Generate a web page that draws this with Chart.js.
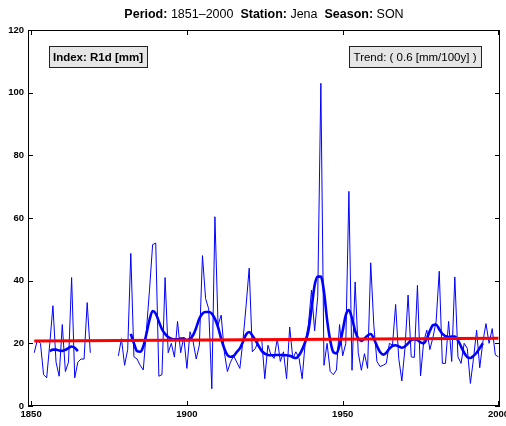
<!DOCTYPE html>
<html>
<head>
<meta charset="utf-8">
<script src="https://cdn.jsdelivr.net/npm/chart.js@4"></script>
<style>
  html, body { margin: 0; padding: 0; background: #fff; }
  #wrap { width: 506px; height: 426px; }
</style>
</head>
<body>
<div id="wrap"><canvas id="rainChart" width="506" height="426"></canvas></div>
<script>
// annual values, first year 1851 (null = missing)
const firstYear = 1851;
const annualValues = [
  17, 21, 20, 10, 9, 20, 32, 14, 9.5,                 // 1851-1859
  26, 11, 14, 41, 9, 14, 15, 15, 33, 17,              // 1860-1869
  null, null, null, null, null, null, null, null, 16, 21.5, // 1870-1879
  13, 18, 48.7, 15.7, 15, 13, 11.5, 24, 37, 51.5,     // 1880-1889
  52, 9.5, 10, 41, 17, 20, 15.6, 27, 17, 22,          // 1890-1899
  12, 23.7, 20.5, 15, 19.4, 48, 34.3, 31, 5.5, 60.4,  // 1900-1909
  25.8, 29, 17.3, 11, 14, 16, 14, 12, 21, 32,         // 1910-1919
  44, 17.3, 18.4, 21, 21.5, 8.7, 19.4, 16.3, 15.2, 21.5, // 1920-1929
  14.2, 17.3, 8.7, 25.2, 15.2, 17.3, 15.2, 8.7, 20.5, 26, // 1930-1939
  37, 24, 35, 103, 13, 20, 11, 10, 11.5, 26,          // 1940-1949
  16, 20, 68.5, 11.4, 39.6, 17, 11.4, 16.7, 12, 45.7, // 1950-1959
  25.8, 14.2, 12.6, 13, 13.6, 20, 19.4, 32.4, 15.2, 8, // 1960-1969
  18.4, 35.4, 15.7, 15.5, 38.5, 9.6, 20.5, 24.2, 18, 22, // 1970-1979
  27, 43, 13.6, 13.6, 27, 14.2, 41.2, 15.7, 13.6, 20, // 1980-1989
  18.4, 7.2, 15.2, 24.2, 12.2, 20.5, 26.3, 20, 24.7, 16.3, // 1990-1999
  15.7                                                // 2000
];

// smoothed curve, two pieces
const smoothEarlyStart = 1856;
const smoothEarly = [17.5, 18, 18, 17.7, 17.6, 17.9, 18.5, 19, 18.6, 17.5];
const smoothLateStart = 1882;
const smoothLate = [
  23, 20, 17.5, 17.3, 19, 23, 27.5, 30.3,             // 1882-1889
  29.5, 27, 24.5, 23, 22, 21.5, 21.3, 21.3, 21.5, 21.5,
  21, 21.5, 22.6, 25, 27.9, 29.5, 30, 30, 29.5, 27.8,
  25.2, 21.5, 18.4, 16.3, 15.7, 16, 17.2, 18.4, 20.5, 22.8,
  23.6, 22.5, 21, 19.2, 17.6, 16.7, 16.3, 16.2, 16.2, 16.3,
  16.3, 16.2, 16.2, 16, 15.6, 15.3, 16.2, 18, 20.5, 24,
  31, 38.5, 41.3, 41.3, 36.5, 27.5, 21, 17.2, 16.8, 19.5,
  24, 29, 30.6, 28, 24, 21.5, 20.8, 21.5, 22.5, 23,
  21.5, 19.2, 17.2, 16.4, 17, 18.3, 19.2, 19.4, 19, 18.6,
  19, 20, 21, 21.3, 21, 20.3, 20, 21.5, 24, 25.8,
  26, 24.5, 23, 22.3, 22, 22.2, 22.2, 21, 19, 17,
  15.6, 15.3, 16, 17, 18.5, 20                        // 1990-1995
];

// linear trend end points
const trendYears = [1851, 2000];
const trendValues = [20.75, 21.65];

const xTicks = [1850, 1900, 1950, 2000];
const yTicks = [0, 20, 40, 60, 80, 100, 120];

const titleParts = [
  ['Period: ', true], ['1851\u20132000  ', false],
  ['Station: ', true], ['Jena  ', false],
  ['Season: ', true], ['SON', false]
];
const indexLabel = 'Index: R1d [mm]';
const trendLabel = 'Trend: ( 0.6 [mm/100y] )';

const FONT = '"Liberation Sans", Arial, Helvetica, sans-serif';

const toPoints = (start, arr) => arr.map((v, i) => ({ x: start + i, y: v }));
const smoothPoints = toPoints(smoothEarlyStart, smoothEarly)
  .concat([{ x: smoothEarlyStart + smoothEarly.length, y: null }])
  .concat(toPoints(smoothLateStart, smoothLate));

// title, boxes, frame with inward ticks
const decorPlugin = {
  id: 'decor',
  afterDraw(chart) {
    const { ctx, chartArea: a, scales } = chart;
    ctx.save();

    // title
    ctx.fillStyle = '#000';
    ctx.textBaseline = 'alphabetic';
    let total = 0;
    titleParts.forEach(([t, b]) => {
      ctx.font = (b ? 'bold ' : '') + '12.5px ' + FONT;
      total += ctx.measureText(t).width;
    });
    let tx = (a.left + a.right) / 2 - total / 2;
    titleParts.forEach(([t, b]) => {
      ctx.font = (b ? 'bold ' : '') + '12.5px ' + FONT;
      ctx.fillText(t, tx, 18);
      tx += ctx.measureText(t).width;
    });

    // frame
    ctx.strokeStyle = '#000';
    ctx.lineWidth = 1;
    ctx.strokeRect(a.left + 0.5, a.top + 0.5, a.right - a.left - 1, a.bottom - a.top - 1);
    ctx.beginPath();
    xTicks.forEach(v => {
      const px = Math.round(scales.x.getPixelForValue(v)) + 0.5;
      ctx.moveTo(px, a.bottom); ctx.lineTo(px, a.bottom - 5);
      ctx.moveTo(px, a.top); ctx.lineTo(px, a.top + 5);
    });
    yTicks.forEach(v => {
      const py = Math.round(scales.y.getPixelForValue(v)) + 0.5;
      ctx.moveTo(a.left, py); ctx.lineTo(a.left + 5, py);
      ctx.moveTo(a.right, py); ctx.lineTo(a.right - 5, py);
    });
    ctx.stroke();

    // label boxes
    const box = (x, y, w, h, text, bold) => {
      ctx.fillStyle = '#e6e6e6';
      ctx.fillRect(x, y, w, h);
      ctx.strokeStyle = '#222';
      ctx.strokeRect(x + 0.5, y + 0.5, w, h);
      ctx.fillStyle = '#000';
      ctx.font = (bold ? 'bold ' : '') + '11.5px ' + FONT;
      ctx.textAlign = 'center';
      ctx.textBaseline = 'middle';
      ctx.fillText(text, x + w / 2, y + h / 2 + 1);
    };
    box(49, 46, 98, 21, indexLabel, true);
    box(349, 46, 132, 21, trendLabel, false);

    ctx.restore();
  }
};

new Chart(document.getElementById('rainChart'), {
  type: 'line',
  data: {
    datasets: [
      {
        label: 'Trend',
        data: trendYears.map((y, i) => ({ x: y, y: trendValues[i] })),
        borderColor: '#ff0000',
        borderWidth: 3,
        pointRadius: 0
      },
      {
        label: 'Smoothed',
        data: smoothPoints,
        borderColor: '#0000ff',
        borderWidth: 2.6,
        pointRadius: 0,
        cubicInterpolationMode: 'monotone',
        spanGaps: false
      },
      {
        label: 'R1d',
        data: toPoints(firstYear, annualValues),
        borderColor: '#0000ff',
        borderWidth: 1,
        pointRadius: 0,
        tension: 0,
        spanGaps: false
      }
    ]
  },
  options: {
    responsive: false,
    animation: false,
    layout: { padding: { top: 30, right: 6, left: 0, bottom: 0 } },
    plugins: {
      legend: { display: false },
      title: { display: false },
      tooltip: { enabled: false }
    },
    scales: {
      x: {
        type: 'linear',
        min: 1849,
        max: 2000.5,
        afterBuildTicks: s => { s.ticks = xTicks.map(v => ({ value: v })); },
        afterFit: s => { s.height = 20; s.paddingLeft = 0; s.paddingRight = 0; },
        grid: { display: false, drawTicks: false },
        border: { display: false },
        ticks: {
          color: '#000',
          padding: 3,
          maxRotation: 0,
          autoSkip: false,
          font: { family: FONT, size: 9.5, weight: 'bold' },
          callback: v => String(v)
        }
      },
      y: {
        min: 0,
        max: 120,
        afterBuildTicks: s => { s.ticks = yTicks.map(v => ({ value: v })); },
        afterFit: s => { s.width = 28; s.paddingTop = 0; s.paddingBottom = 0; },
        grid: { display: false, drawTicks: false },
        border: { display: false },
        ticks: {
          color: '#000',
          padding: 4,
          font: { family: FONT, size: 9.5, weight: 'bold' }
        }
      }
    }
  },
  plugins: [decorPlugin]
});
</script>
</body>
</html>
